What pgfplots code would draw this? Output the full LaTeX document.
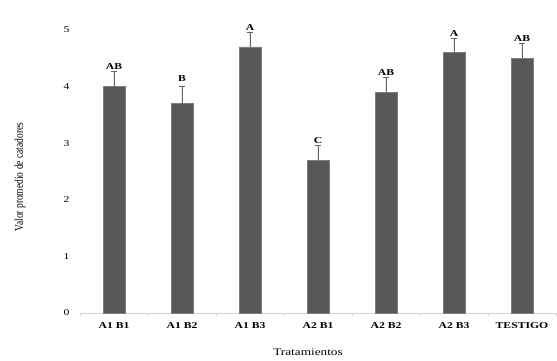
\documentclass[border=0pt]{standalone}
\usepackage{pgfplots}
\pgfplotsset{compat=1.18}
\usepackage{pgfplotstable}
\usepackage{fontspec}
\setmainfont{Liberation Serif}
\definecolor{barfill}{RGB}{88,88,88}
\definecolor{baredge}{RGB}{125,125,125}
\definecolor{errcol}{RGB}{100,100,100}
\definecolor{axcol}{RGB}{210,210,210}
\newcommand{\hs}[1]{\scalebox{1.3}[1]{#1}}
\pgfplotstableread{
x y e
0 4.00 0.27
1 3.70 0.30
2 4.70 0.26
3 2.70 0.26
4 3.90 0.26
5 4.60 0.25
6 4.50 0.26
}\bars
\pgfplotstableread{
x y l
0 4.27 AB
1 4.06 B
2 4.96 A
3 2.96 C
4 4.16 AB
5 4.85 A
6 4.76 AB
}\letters
\begin{document}
\begin{tikzpicture}
\useasboundingbox (0,0) rectangle (557pt,361pt);
\begin{axis}[
  at={(80pt,48pt)}, anchor=south west,
  scale only axis, width=476pt, height=283pt,
  xmin=-0.5, xmax=6.5, ymin=0, ymax=5,
  clip=false,
  axis lines*=left,
  x axis line style={axcol, line width=0.8pt, -},
  y axis line style={draw=none},
  major tick length=0pt,
  tick align=outside,
  tick style={axcol, line width=0.8pt},
  xtick={0,1,2,3,4,5,6},
  xticklabels={\hs{A1 B1},\hs{A1 B2},\hs{A1 B3},\hs{A2 B1},\hs{A2 B2},\hs{A2 B3},\hs{TESTIGO}},
  xticklabel style={font=\fontsize{9}{10}\selectfont\bfseries, yshift=-6pt},
  extra x ticks={-0.5,0.5,1.5,2.5,3.5,4.5,5.5,6.5},
  extra x tick labels={},
  extra x tick style={major tick length=3pt},
  ytick={0,1,2,3,4,5},
  yticklabel={\hs{\pgfmathprintnumber{\tick}}},
  yticklabel style={font=\fontsize{9}{10}\selectfont, xshift=-7pt},
  /pgf/number format/assume math mode=true,
  xlabel={\hs{Tratamientos}},
  xlabel style={font=\fontsize{10.2}{12}\selectfont, at={(axis description cs:0.479,-0.138)}, anchor=center},
  ylabel={\scalebox{1}[1.25]{Valor promedio de catadores}},
  ylabel style={font=\fontsize{9.5}{11}\selectfont, at={(axis description cs:-0.126,0.48)}, anchor=center, rotate=0},
]
\addplot[ybar, bar width=21.7pt, fill=barfill, draw=baredge, line width=0.6pt,
  error bars/.cd, y dir=plus, y explicit,
  error bar style={errcol, line width=0.9pt},
  error mark options={rotate=90, mark size=3pt, errcol, line width=0.7pt}]
  table[x=x, y=y, y error=e]{\bars};
\addplot[draw=none, mark=none,
  nodes near coords={\hs{\textbf{\pgfplotspointmeta}}},
  point meta=explicit symbolic,
  nodes near coords style={anchor=south, font=\fontsize{9}{10}\selectfont, inner sep=1.5pt}]
  table[x=x, y=y, meta=l]{\letters};
\end{axis}
\end{tikzpicture}
\end{document}
